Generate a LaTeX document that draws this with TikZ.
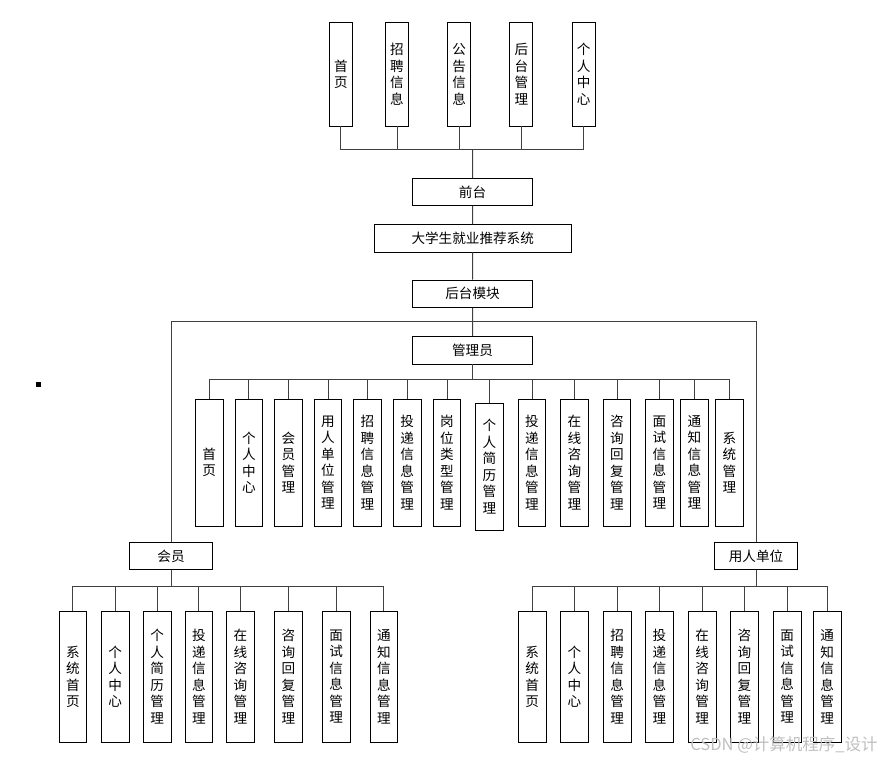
\documentclass[tikz,border=0pt]{standalone}
\usepackage{fontspec}
\setmainfont{Noto Sans CJK SC}
\usepackage{tikz}
\tikzstyle{box}=[draw, line width=0.8pt, inner sep=0pt, font=\fontsize{13.6}{16.5}\selectfont]
\tikzstyle{hbox}=[box, minimum height=27.4pt]
\tikzstyle{vbox}=[box, align=center, minimum width=27.7pt]
\tikzstyle{tbox}=[vbox, minimum width=23pt, minimum height=103.7pt]
\tikzstyle{gbox}=[vbox, minimum height=127pt]
\tikzstyle{bbox}=[vbox, minimum height=130.7pt]
\tikzstyle{link}=[draw=black!75, line width=1pt]

\begin{document}
\begin{tikzpicture}[x=1pt, y=-1pt]
        \useasboundingbox (0,0) rectangle (886,760);
        % front end
        \node[tbox] (T1) at (340.8, 74.2) {首\\页};
        \node[tbox] (T2) at (397.0, 74.2) {招\\聘\\信\\息};
        \node[tbox] (T3) at (459.2, 74.2) {公\\告\\信\\息};
        \node[tbox] (T4) at (521.3, 74.2) {后\\台\\管\\理};
        \node[tbox] (T5) at (583.7, 74.2) {个\\人\\中\\心};
        \coordinate (Tbus) at (472.7, 149.3);
        \node[hbox, minimum width=119.6pt] (front) at (472.5, 192) {前台};
        \node[hbox, minimum width=197.3pt] (sys) at (472.7, 238.2) {大学生就业推荐系统};
        \node[hbox, minimum width=119.6pt] (back) at (472.5, 293.7) {后台模块};
        \node[hbox, minimum width=119.6pt] (admin) at (472.5, 350.3) {管理员};
        \coordinate (Hbus) at (472.5, 321);
        \draw[link] (T1.south) |- (Tbus);
        \draw[link] (T2.south) |- (Tbus);
        \draw[link] (T3.south) |- (Tbus);
        \draw[link] (T4.south) |- (Tbus);
        \draw[link] (T5.south) |- (Tbus);
        \draw[link] (front) -- (Tbus);
        \draw[link] (front) -- (sys) -- (back) -- (admin);
        % admin
        \coordinate (Gbus) at (472.5, 379);
        \node[gbox] (G1) at (209.2, 462.5) {首\\页};
        \node[gbox] (G2) at (248.8, 462.5) {个\\人\\中\\心};
        \node[gbox] (G3) at (288.5, 462.5) {会\\员\\管\\理};
        \node[gbox] (G4) at (328.0, 462.5) {用\\人\\单\\位\\管\\理};
        \node[gbox] (G5) at (367.5, 462.5) {招\\聘\\信\\息\\管\\理};
        \node[gbox] (G6) at (407.2, 462.5) {投\\递\\信\\息\\管\\理};
        \node[gbox] (G7) at (447.0, 462.5) {岗\\位\\类\\型\\管\\理};
        \node[gbox] (G8) at (489.5, 466.7) {个\\人\\简\\历\\管\\理};
        \node[gbox] (G9) at (532.0, 462.5) {投\\递\\信\\息\\管\\理};
        \node[gbox] (G10) at (574.3, 462.5) {在\\线\\咨\\询\\管\\理};
        \node[gbox] (G11) at (617.0, 462.5) {咨\\询\\回\\复\\管\\理};
        \node[gbox] (G12) at (659.5, 462.5) {面\\试\\信\\息\\管\\理};
        \node[gbox] (G13) at (694.5, 462.5) {通\\知\\信\\息\\管\\理};
        \node[gbox] (G14) at (729.5, 462.5) {系\\统\\管\\理};
        \draw[link] (admin) -- (Gbus);
        \draw[link] (G1.north) |- (Gbus);
        \draw[link] (G2.north) |- (Gbus);
        \draw[link] (G3.north) |- (Gbus);
        \draw[link] (G4.north) |- (Gbus);
        \draw[link] (G5.north) |- (Gbus);
        \draw[link] (G6.north) |- (Gbus);
        \draw[link] (G7.north) |- (Gbus);
        \draw[link] (G8.north) |- (Gbus);
        \draw[link] (G9.north) |- (Gbus);
        \draw[link] (G10.north) |- (Gbus);
        \draw[link] (G11.north) |- (Gbus);
        \draw[link] (G12.north) |- (Gbus);
        \draw[link] (G13.north) |- (Gbus);
        \draw[link] (G14.north) |- (Gbus);
        % member and employer
        \node[hbox, minimum width=83.4pt] (member) at (171, 556) {会员};
        \node[hbox, minimum width=83.4pt] (employer) at (756, 556) {用人单位};
        \draw[link] (member.north) |- (Hbus);
        \draw[link] (employer.north) |- (Hbus);
        \coordinate (Mbus) at (171, 586);
        \coordinate (Ebus) at (756, 586);
        \node[bbox] (M1) at (72.8, 676.7) {系\\统\\首\\页};
        \node[bbox] (M2) at (115.2, 676.7) {个\\人\\中\\心};
        \node[bbox] (M3) at (157.2, 676.7) {个\\人\\简\\历\\管\\理};
        \node[bbox] (M4) at (198.8, 676.7) {投\\递\\信\\息\\管\\理};
        \node[bbox] (M5) at (240.5, 676.7) {在\\线\\咨\\询\\管\\理};
        \node[bbox] (M6) at (288.5, 676.7) {咨\\询\\回\\复\\管\\理};
        \node[bbox] (M7) at (336.2, 676.7) {面\\试\\信\\息\\管\\理};
        \node[bbox] (M8) at (383.8, 676.7) {通\\知\\信\\息\\管\\理};
        \node[bbox] (E1) at (532.2, 676.7) {系\\统\\首\\页};
        \node[bbox] (E2) at (574.5, 676.7) {个\\人\\中\\心};
        \node[bbox] (E3) at (617.2, 676.7) {招\\聘\\信\\息\\管\\理};
        \node[bbox] (E4) at (659.5, 676.7) {投\\递\\信\\息\\管\\理};
        \node[bbox] (E5) at (702.2, 676.7) {在\\线\\咨\\询\\管\\理};
        \node[bbox] (E6) at (744.5, 676.7) {咨\\询\\回\\复\\管\\理};
        \node[bbox] (E7) at (787.2, 676.7) {面\\试\\信\\息\\管\\理};
        \node[bbox] (E8) at (827.2, 676.7) {通\\知\\信\\息\\管\\理};
        \draw[link] (member) -- (Mbus);
        \draw[link] (M1.north) |- (Mbus);
        \draw[link] (M2.north) |- (Mbus);
        \draw[link] (M3.north) |- (Mbus);
        \draw[link] (M4.north) |- (Mbus);
        \draw[link] (M5.north) |- (Mbus);
        \draw[link] (M6.north) |- (Mbus);
        \draw[link] (M7.north) |- (Mbus);
        \draw[link] (M8.north) |- (Mbus);
        \draw[link] (employer) -- (Ebus);
        \draw[link] (E1.north) |- (Ebus);
        \draw[link] (E2.north) |- (Ebus);
        \draw[link] (E3.north) |- (Ebus);
        \draw[link] (E4.north) |- (Ebus);
        \draw[link] (E5.north) |- (Ebus);
        \draw[link] (E6.north) |- (Ebus);
        \draw[link] (E7.north) |- (Ebus);
        \draw[link] (E8.north) |- (Ebus);
        % stray mark and watermark
        \fill (36, 382) rectangle (41, 387);
        \node[text=black!25, font=\fontsize{16.5}{16.5}\selectfont] (mark) at (784, 745) {CSDN @计算机程序\_设计};
    \end{tikzpicture}
\end{document}
